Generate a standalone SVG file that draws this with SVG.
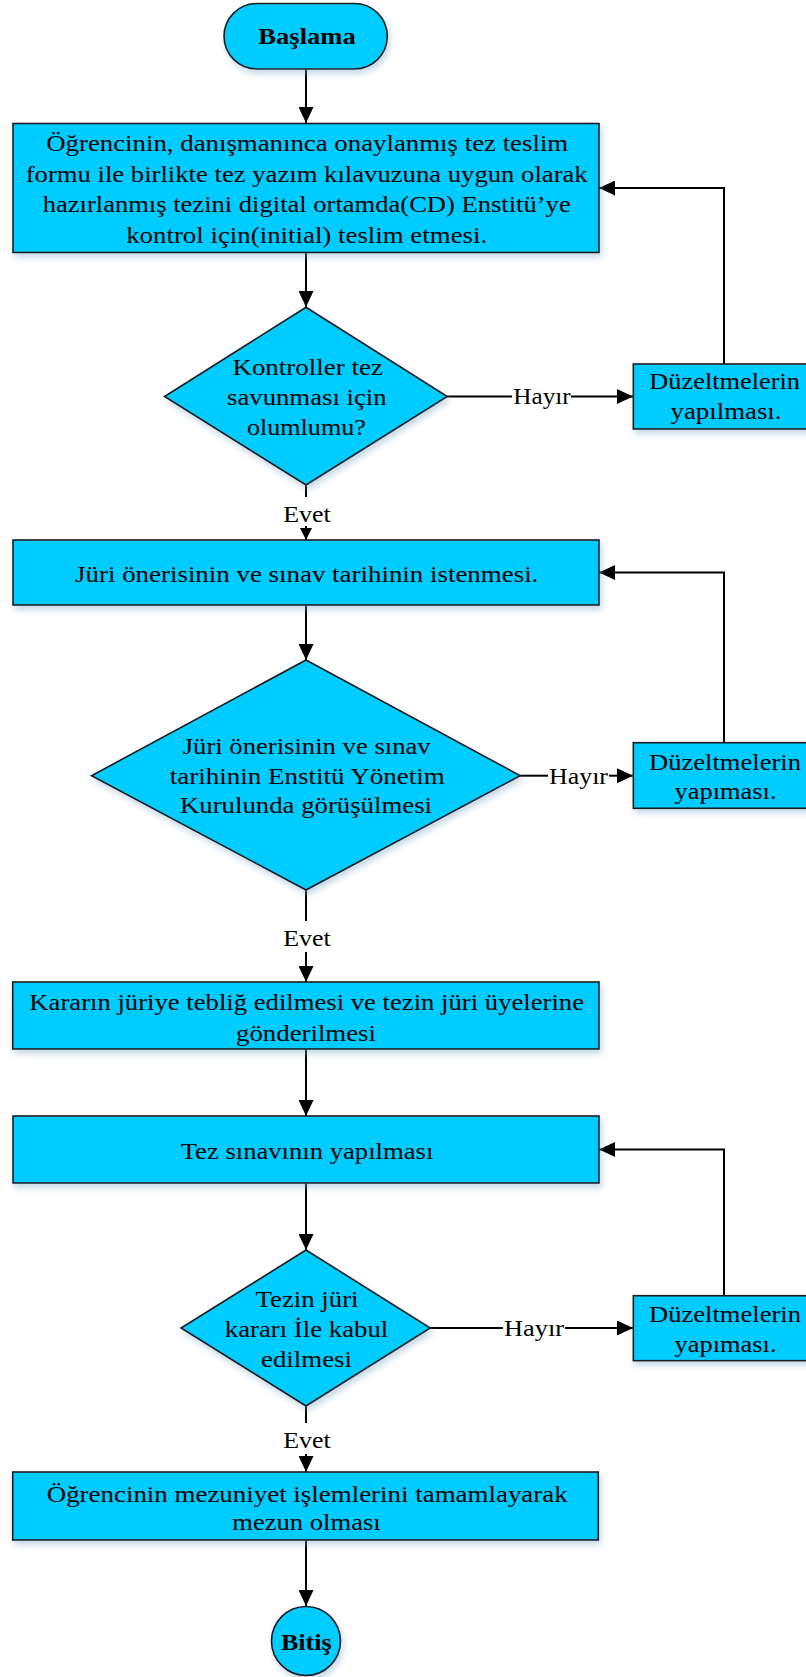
<svg xmlns="http://www.w3.org/2000/svg" width="806" height="1677" viewBox="0 0 806 1677">
<style>
.shape{fill:#00CCFF;stroke:#1a1a1a;stroke-width:1.6;filter:url(#sh)}
.t{font-family:"Liberation Serif","DejaVu Serif",serif;font-size:24px;fill:#000;text-anchor:middle}
.b{font-weight:bold}
.c{fill:none;stroke:#000;stroke-width:2}
.a{marker-end:url(#ah)}
.as{marker-end:url(#ahs)}
</style>
<defs>
<filter id="sh" x="-10%" y="-10%" width="130%" height="140%">
<feDropShadow dx="2" dy="4" stdDeviation="3" flood-color="#7fa7c9" flood-opacity="0.45"/>
</filter>
<marker id="ah" markerUnits="userSpaceOnUse" markerWidth="16" markerHeight="15" refX="16" refY="7.5" orient="auto">
<path d="M0,0 L16,7.5 L0,15 z" fill="#000"/>
</marker>
<marker id="ahs" markerUnits="userSpaceOnUse" markerWidth="12" markerHeight="12" refX="12" refY="6" orient="auto">
<path d="M0,0 L12,6 L0,12 z" fill="#000"/>
</marker>
</defs>
<rect width="806" height="1677" fill="#fff"/>

<g id="connectors">
<path class="c a" d="M306,69 V123"/>
<path class="c a" d="M306,252 V307"/>
<path class="c" d="M447,396.5 H512"/>
<path class="c a" d="M571,396.5 H633"/>
<path class="c a" d="M724,364 V188 H599"/>
<path class="c" d="M306,485 V497"/>
<path class="c as" d="M306,526 V540"/>
<path class="c a" d="M306,605 V660"/>
<path class="c" d="M520,775.7 H548"/>
<path class="c a" d="M609,775.7 H633"/>
<path class="c a" d="M724,742.7 V572.5 H599"/>
<path class="c" d="M306,890 V921"/>
<path class="c a" d="M306,952 V982"/>
<path class="c a" d="M306,1049 V1116"/>
<path class="c a" d="M306,1183 V1250"/>
<path class="c" d="M430,1328 H503"/>
<path class="c a" d="M565,1328 H633"/>
<path class="c a" d="M724,1295.7 V1149.5 H599"/>
<path class="c" d="M306,1406 V1423"/>
<path class="c a" d="M306,1454 V1472"/>
<path class="c a" d="M306,1540 V1606"/>
</g>

<g id="labels">
<text class="t" x="542" y="404.3" textLength="57.4" lengthAdjust="spacingAndGlyphs">Hayır</text>
<text class="t" x="578.5" y="784" textLength="59" lengthAdjust="spacingAndGlyphs">Hayır</text>
<text class="t" x="534" y="1336" textLength="60" lengthAdjust="spacingAndGlyphs">Hayır</text>
<text class="t" x="307" y="521.7" textLength="47.5" lengthAdjust="spacingAndGlyphs">Evet</text>
<text class="t" x="307" y="945.7" textLength="47.5" lengthAdjust="spacingAndGlyphs">Evet</text>
<text class="t" x="307" y="1448.3" textLength="47.5" lengthAdjust="spacingAndGlyphs">Evet</text>
</g>

<g id="start">
<rect class="shape" x="224" y="3.5" width="163.3" height="65.5" rx="32.75"/>
<text class="t b" x="307" y="44" textLength="97.4" lengthAdjust="spacingAndGlyphs">Başlama</text>
</g>

<g id="box1">
<rect class="shape" x="13" y="123.5" width="586" height="129"/>
<text class="t" x="307.2" y="150.7" textLength="522" lengthAdjust="spacingAndGlyphs">Öğrencinin, danışmanınca onaylanmış tez teslim</text>
<text class="t" x="306.7" y="181.5" textLength="562" lengthAdjust="spacingAndGlyphs">formu ile birlikte tez yazım kılavuzuna uygun olarak</text>
<text class="t" x="306.7" y="212.3" textLength="528" lengthAdjust="spacingAndGlyphs">hazırlanmış tezini digital ortamda(CD) Enstitü’ye</text>
<text class="t" x="306.7" y="243" textLength="361" lengthAdjust="spacingAndGlyphs">kontrol için(initial) teslim etmesi.</text>
</g>

<g id="decision1">
<polygon class="shape" points="306,307.3 447.3,396.5 306,485 164.5,396.5"/>
<text class="t" x="307.7" y="375" textLength="150.6" lengthAdjust="spacingAndGlyphs">Kontroller tez</text>
<text class="t" x="306.8" y="405" textLength="159.6" lengthAdjust="spacingAndGlyphs">savunması için</text>
<text class="t" x="306.4" y="435" textLength="119" lengthAdjust="spacingAndGlyphs">olumlumu?</text>
</g>

<g id="fix1">
<rect class="shape" x="633.3" y="364" width="183" height="65"/>
<text class="t" x="724.7" y="389.3" textLength="150.7" lengthAdjust="spacingAndGlyphs">Düzeltmelerin</text>
<text class="t" x="726" y="419" textLength="111" lengthAdjust="spacingAndGlyphs">yapılması.</text>
</g>

<g id="box2">
<rect class="shape" x="13" y="540" width="586" height="65"/>
<text class="t" x="306.7" y="581.7" textLength="463.3" lengthAdjust="spacingAndGlyphs">Jüri önerisinin ve sınav tarihinin istenmesi.</text>
</g>

<g id="decision2">
<polygon class="shape" points="306,660 520.3,775.7 306,890 91.5,775.7"/>
<text class="t" x="306.7" y="754" textLength="248" lengthAdjust="spacingAndGlyphs">Jüri önerisinin ve sınav</text>
<text class="t" x="307.2" y="784" textLength="275" lengthAdjust="spacingAndGlyphs">tarihinin Enstitü Yönetim</text>
<text class="t" x="306" y="813.3" textLength="252" lengthAdjust="spacingAndGlyphs">Kurulunda görüşülmesi</text>
</g>

<g id="fix2">
<rect class="shape" x="633.3" y="742.7" width="183" height="65.6"/>
<text class="t" x="725" y="770" textLength="152" lengthAdjust="spacingAndGlyphs">Düzeltmelerin</text>
<text class="t" x="725.5" y="799" textLength="102" lengthAdjust="spacingAndGlyphs">yapıması.</text>
</g>

<g id="box3">
<rect class="shape" x="12.7" y="982" width="586.3" height="67"/>
<text class="t" x="306.7" y="1010" textLength="554.7" lengthAdjust="spacingAndGlyphs">Kararın jüriye tebliğ edilmesi ve tezin jüri üyelerine</text>
<text class="t" x="306" y="1040.5" textLength="140" lengthAdjust="spacingAndGlyphs">gönderilmesi</text>
</g>

<g id="box4">
<rect class="shape" x="13" y="1116" width="586" height="67"/>
<text class="t" x="307" y="1159.3" textLength="252.6" lengthAdjust="spacingAndGlyphs">Tez sınavının yapılması</text>
</g>

<g id="decision3">
<polygon class="shape" points="306,1250 430.3,1328 306,1406 181,1328"/>
<text class="t" x="307" y="1306.7" textLength="103" lengthAdjust="spacingAndGlyphs">Tezin jüri</text>
<text class="t" x="306.5" y="1336.7" textLength="163.5" lengthAdjust="spacingAndGlyphs">kararı İle kabul</text>
<text class="t" x="306.5" y="1367" textLength="91" lengthAdjust="spacingAndGlyphs">edilmesi</text>
</g>

<g id="fix3">
<rect class="shape" x="633.3" y="1295.7" width="183" height="65"/>
<text class="t" x="725" y="1321.7" textLength="152" lengthAdjust="spacingAndGlyphs">Düzeltmelerin</text>
<text class="t" x="725.5" y="1351.7" textLength="102" lengthAdjust="spacingAndGlyphs">yapıması.</text>
</g>

<g id="box5">
<rect class="shape" x="12.7" y="1472" width="585.6" height="68"/>
<text class="t" x="307.2" y="1502.3" textLength="521" lengthAdjust="spacingAndGlyphs">Öğrencinin mezuniyet işlemlerini tamamlayarak</text>
<text class="t" x="306.5" y="1530" textLength="148.4" lengthAdjust="spacingAndGlyphs">mezun olması</text>
</g>

<g id="end">
<circle class="shape" cx="306" cy="1641" r="34.5"/>
<text class="t b" x="306.3" y="1650" textLength="50.7" lengthAdjust="spacingAndGlyphs">Bitiş</text>
</g>
</svg>
